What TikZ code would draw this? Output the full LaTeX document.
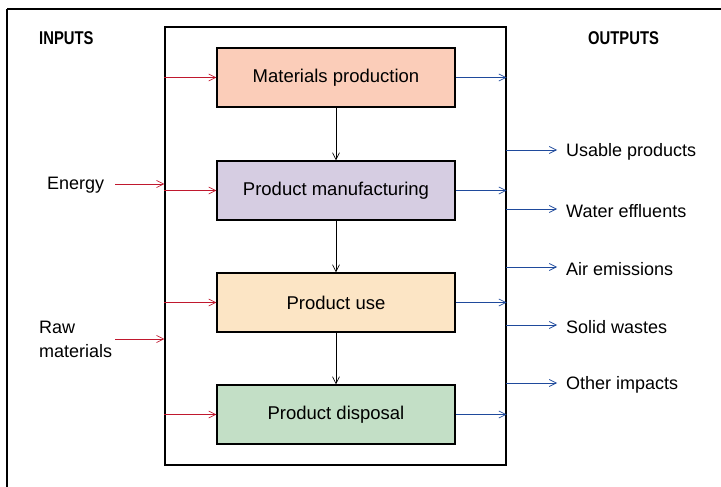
\documentclass[tikz,border=0pt]{standalone}
\usepackage{fontspec}
\setmainfont{Liberation Sans}
\newfontfamily\headfont[FakeStretch=0.8]{Liberation Sans}
\usetikzlibrary{arrows.meta}
\definecolor{cmat}{HTML}{FBCDB9}
\definecolor{cman}{HTML}{D6CDE2}
\definecolor{cuse}{HTML}{FCE5C5}
\definecolor{cdis}{HTML}{C3DFC6}
\definecolor{inred}{HTML}{C0182E}
\definecolor{outblue}{HTML}{1F4A9C}
\begin{document}
\begin{tikzpicture}[x=1pt,y=-1pt,
  stage/.style={draw=black,line width=1.1pt,minimum width=238pt,minimum height=59pt,inner sep=0pt,font=\fontsize{18.5}{21}\selectfont},
  lbl/.style={font=\fontsize{18}{24}\selectfont,inner sep=0pt},
  head/.style={font=\headfont\bfseries\fontsize{18.5}{20}\selectfont,inner sep=0pt},
  inarr/.style={draw=inred,line width=0.7pt,-{Straight Barb[length=7pt,width=7pt]}},
  outarr/.style={draw=outblue,line width=0.7pt,-{Straight Barb[length=7pt,width=7pt]}},
  downarr/.style={draw=black,line width=0.7pt,-{Straight Barb[length=7pt,width=7pt]}}]
\useasboundingbox (0,0) rectangle (721,487);
\begin{scope}
\clip (0,0) rectangle (721,487);
\draw[line width=1.3pt] (7,9) -- (730,9);
\draw[line width=1.3pt] (7,9) -- (7,500);
\end{scope}
\node[draw=black,line width=1.2pt,minimum width=341pt,minimum height=438pt,inner sep=0pt] (frame) at (335.5,246) {};
\node[stage,fill=cmat] (mat) at (336,77.5) {Materials production};
\node[stage,fill=cman] (man) at (336,190.5) {Product manufacturing};
\node[stage,fill=cuse] (use) at (336,302.5) {Product use};
\node[stage,fill=cdis] (dis) at (336,414.5) {Product disposal};
\node[head,anchor=west] (inputs) at (39,38) {INPUTS};
\node[head,anchor=west] (outputs) at (588,38) {OUTPUTS};
\node[lbl,anchor=west] (energy) at (47,185) {Energy};
\node[lbl,anchor=west,align=left] (raw) at (39,339) {Raw\\materials};
\coordinate (fl1) at (frame.west |- mat.west);
\coordinate (fl2) at (frame.west |- man.west);
\coordinate (fl3) at (frame.west |- use.west);
\coordinate (fl4) at (frame.west |- dis.west);
\draw[inarr] (fl1) -- (mat.west);
\draw[inarr] (fl2) -- (man.west);
\draw[inarr] (fl3) -- (use.west);
\draw[inarr] (fl4) -- (dis.west);
\coordinate (e0) at (115,184);
\coordinate (r0) at (115,339);
\draw[inarr] (e0) -- (e0 -| frame.west);
\draw[inarr] (r0) -- (r0 -| frame.west);
\draw[outarr] (mat.east) -- (mat.east -| frame.east);
\draw[outarr] (man.east) -- (man.east -| frame.east);
\draw[outarr] (use.east) -- (use.east -| frame.east);
\draw[outarr] (dis.east) -- (dis.east -| frame.east);
\draw[downarr] (mat.south) -- (man.north);
\draw[downarr] (man.south) -- (use.north);
\draw[downarr] (use.south) -- (dis.north);
\foreach \y/\n/\t in {150/up/Usable products,209/we/Water effluents,267/ae/Air emissions,325/sw/Solid wastes,383/oi/Other impacts}{
  \coordinate (s\n) at (506,\y);
  \node[lbl,anchor=west] (\n) at (566,\y+2) {\t};
  \draw[outarr] (s\n) -- (557,\y);
}
\end{tikzpicture}
\end{document}
